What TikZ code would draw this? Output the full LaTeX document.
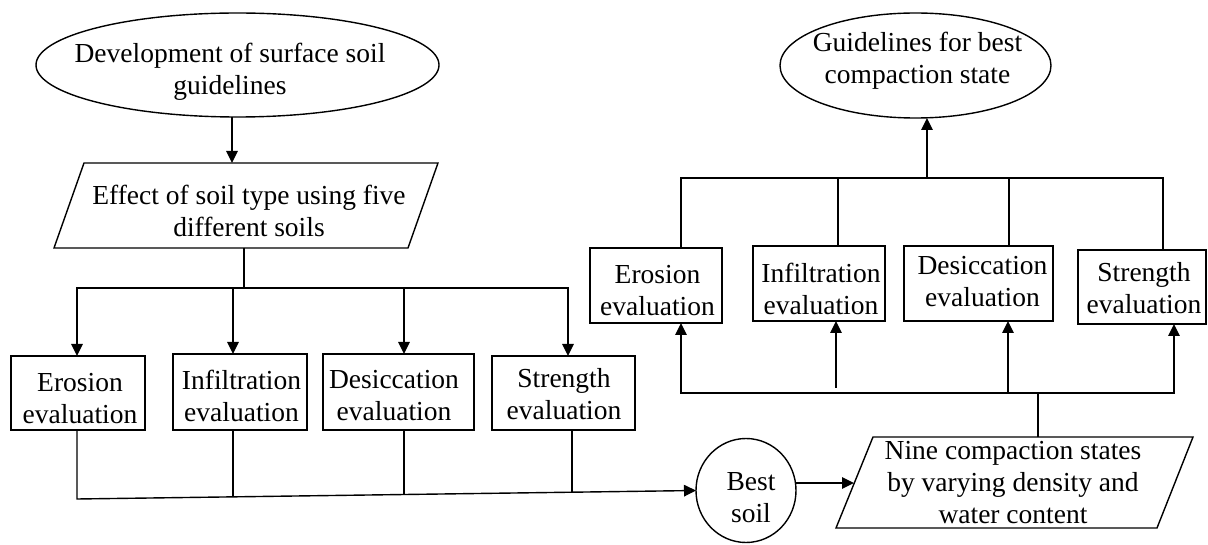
\documentclass[tikz,border=0pt]{standalone}
\usepackage{fontspec}
\setmainfont{Liberation Serif}
\usetikzlibrary{arrows.meta,shapes.geometric,calc}
\begin{document}
\begin{tikzpicture}[x=1pt,y=-1pt,
  line width=1.4pt,
  arr/.style={-{Triangle[length=12pt,width=11.5pt]}},
  boxshape/.style={draw, rectangle, inner sep=0pt, outer sep=0pt},
  ovalshape/.style={draw, ellipse, inner sep=0pt, outer sep=0pt},
  area/.style={rectangle, inner sep=0pt, outer sep=0pt},
  txt/.style={align=center, inner sep=0pt, font=\fontsize{27.5}{32}\selectfont}]
\fill[white] (0,0) rectangle (1208,545);
\useasboundingbox (0,0) rectangle (1208,545);

% ---------- shapes ----------
\node[ovalshape, minimum width=403pt, minimum height=104pt] (dev) at (237.5,65) {};
\node[area, minimum width=384pt, minimum height=85pt] (eff) at (246,205.5) {};
\draw (eff.south west) -- ($(eff.north west)+(30pt,0pt)$) -- (eff.north east) -- ($(eff.south east)+(-30pt,0pt)$) -- cycle;

\node[boxshape, minimum width=134pt, minimum height=74pt] (le1) at (78,393) {};
\node[boxshape, minimum width=134pt, minimum height=76pt] (le2) at (240,392) {};
\node[boxshape, minimum width=151pt, minimum height=76pt] (le3) at (398.5,392) {};
\node[boxshape, minimum width=143pt, minimum height=74pt] (le4) at (563.5,393) {};

\node[ovalshape, minimum width=100pt, minimum height=104pt] (best) at (746,490.5) {};
\node[area, minimum width=357pt, minimum height=91pt] (nine) at (1014.5,482.5) {};
\draw (nine.south west) -- ($(nine.north west)+(37pt,0pt)$) -- (nine.north east) -- ($(nine.south east)+(-36pt,0pt)$) -- cycle;

\node[boxshape, minimum width=132pt, minimum height=75pt] (re1) at (656,285.5) {};
\node[boxshape, minimum width=132pt, minimum height=75pt] (re2) at (819,283.5) {};
\node[boxshape, minimum width=149pt, minimum height=75pt] (re3) at (978.5,283.5) {};
\node[boxshape, minimum width=128pt, minimum height=74pt] (re4) at (1142,287) {};

\node[ovalshape, minimum width=271pt, minimum height=105pt] (gl) at (915.5,65.5) {};

% ---------- texts ----------
\node[txt] (tdev) at (230,72) {Development of surface soil\\guidelines};
\node[txt] (teff) at (249,211) {Effect of soil type using five\\different soils};
\node[txt] (tle1) at (80,399) {Erosion\\evaluation};
\node[txt] (tle2) at (241.5,396) {Infiltration\\evaluation};
\node[txt] (tle3) at (394,396) {Desiccation\\evaluation};
\node[txt] (tle4) at (564,394) {Strength\\evaluation};
\node[txt] (tbest) at (751,497.5) {Best\\soil};
\node[txt] (tnine) at (1013,483) {Nine compaction states\\by varying density and\\water content};
\node[txt] (tre1) at (657.5,290.5) {Erosion\\evaluation};
\node[txt] (tre2) at (821,289) {Infiltration\\evaluation};
\node[txt] (tre3) at (982.5,282) {Desiccation\\evaluation};
\node[txt] (tre4) at (1144,288.5) {Strength\\evaluation};
\node[txt] (tgl) at (917.5,61) {Guidelines for best\\compaction state};

% ---------- connectors, left ----------
\draw[arr] ([xshift=-5.5pt]dev.south) -- ([xshift=-5.5pt]dev.south |- eff.north);

\coordinate (tj) at (244,288);
\coordinate (tj1) at (77,288);
\coordinate (tj2) at (233,288);
\coordinate (tj3) at (404,288);
\coordinate (tj4) at (568,288);
\draw (eff.south -| tj) -- (tj);
\draw[arr] (tj) -- (tj1) -- (tj1 |- le1.north);
\draw[arr] (tj) -- (tj4) -- (tj4 |- le4.north);
\draw[arr] (tj2) -- (tj2 |- le2.north);
\draw[arr] (tj3) -- (tj3 |- le3.north);

\coordinate (bj1) at (77,499);
\coordinate (bj2) at (233,496.9);
\coordinate (bj3) at (404,494.5);
\coordinate (bj4) at (572,492.2);
\draw[arr] (le1.south -| bj1) -- (bj1) -- (best.west);
\draw (le2.south -| bj2) -- (bj2);
\draw (le3.south -| bj3) -- (bj3);
\draw (le4.south -| bj4) -- (bj4);

\coordinate (nl) at (854,483);
\draw[arr] (best.east |- nl) -- (nl);

% ---------- connectors, right ----------
\coordinate (rj) at (1038,393);
\coordinate (rj1) at (681,393);
\coordinate (rj2) at (836,388);
\coordinate (rj3) at (1008,393);
\coordinate (rj4) at (1174,393);
\draw (nine.north -| rj) -- (rj);
\draw[arr] (rj) -- (rj1) -- (rj1 |- re1.south);
\draw[arr] (rj) -- (rj4) -- (rj4 |- re4.south);
\draw[arr] (rj2) -- (rj2 |- re2.south);
\draw[arr] (rj3) -- (rj3 |- re3.south);

\coordinate (uj) at (927,178);
\coordinate (uj1) at (681,178);
\coordinate (uj2) at (838,178);
\coordinate (uj3) at (1009,178);
\coordinate (uj4) at (1163,178);
\draw (re1.north -| uj1) -- (uj1) -- (uj4) -- (re4.north -| uj4);
\draw (re2.north -| uj2) -- (uj2);
\draw (re3.north -| uj3) -- (uj3);
\draw[arr] (uj) -- (uj |- gl.south);
\end{tikzpicture}
\end{document}
